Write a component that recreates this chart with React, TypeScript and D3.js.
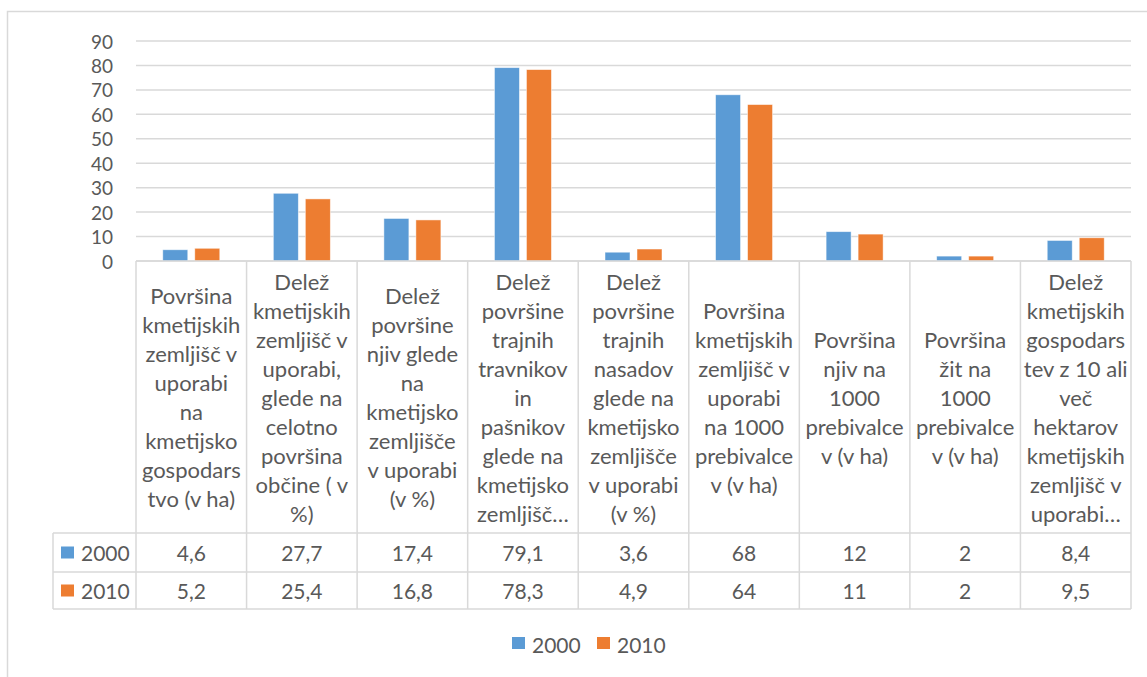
import React from "react";
import * as d3 from "d3";

const categories: string[][] = [
  ["Površina", "kmetijskih", "zemljišč v", "uporabi", "na", "kmetijsko", "gospodars", "tvo (v ha)"],
  ["Delež", "kmetijskih", "zemljišč v", "uporabi,", "glede na", "celotno", "površina", "občine ( v", "%)"],
  ["Delež", "površine", "njiv glede", "na", "kmetijsko", "zemljišče", "v uporabi", "(v %)"],
  ["Delež", "površine", "trajnih", "travnikov", "in", "pašnikov", "glede na", "kmetijsko", "zemljišč…"],
  ["Delež", "površine", "trajnih", "nasadov", "glede na", "kmetijsko", "zemljišče", "v uporabi", "(v %)"],
  ["Površina", "kmetijskih", "zemljišč v", "uporabi", "na 1000", "prebivalce", "v (v ha)"],
  ["Površina", "njiv na", "1000", "prebivalce", "v (v ha)"],
  ["Površina", "žit na", "1000", "prebivalce", "v (v ha)"],
  ["Delež", "kmetijskih", "gospodars", "tev z 10 ali", "več", "hektarov", "kmetijskih", "zemljišč v", "uporabi…"],
];

const series = ["2000", "2010"];
const values2000 = [4.6, 27.7, 17.4, 79.1, 3.6, 68, 12, 2, 8.4];
const values2010 = [5.2, 25.4, 16.8, 78.3, 4.9, 64, 11, 2, 9.5];
const yTicks = [0, 10, 20, 30, 40, 50, 60, 70, 80, 90];

const colors = ["#5B9BD5", "#ED7D31"];
const grid = "#D9D9D9";
const textColor = "#595959";
const font = "Lato, 'Noto Sans', sans-serif";

const W = 1147;
const H = 677;

export default function App() {
  const plotLeft = 136;
  const plotRight = 1131;
  const plotTop = 41;
  const plotBottom = 261;
  const headerBottom = 533;
  const row1Bottom = 572;
  const row2Bottom = 609;
  const legendLeft = 53;

  const seriesValues = [values2000, values2010];
  const idx = categories.map((_, i) => String(i));

  const x0 = d3.scaleBand<string>().domain(idx).range([plotLeft, plotRight]).padding(0);
  const bw = x0.bandwidth();
  const x1 = d3
    .scaleBand<string>()
    .domain(series)
    .range([bw / 2 - 28.5, bw / 2 + 28.5])
    .paddingInner(7 / 32)
    .paddingOuter(0);
  const y = d3.scaleLinear().domain([0, 90]).range([plotBottom, plotTop]);

  const fmt = (v: number) => String(v).replace(".", ",");
  const lineH = 29;
  const headerMid = (plotBottom + headerBottom) / 2;
  const rowMids = [(headerBottom + row1Bottom) / 2, (row1Bottom + row2Bottom) / 2];

  return (
    <svg
      width={W}
      height={H}
      style={{ position: "absolute", left: 0, top: 0, background: "#fff" }}
      fontFamily={font}
    >
      <rect x={7.5} y={11.5} width={W + 20} height={H + 20} fill="#fff" stroke={grid} strokeWidth={1.5} />

      {/* gridlines */}
      {yTicks.map((t) => (
        <line key={t} x1={plotLeft} x2={plotRight} y1={y(t)} y2={y(t)} stroke={grid} strokeWidth={1.5} />
      ))}
      {yTicks.map((t) => (
        <text
          key={"l" + t}
          x={113}
          y={y(t)}
          textAnchor="end"
          dominantBaseline="central"
          fontSize={19}
          fill={textColor}
        >
          {t}
        </text>
      ))}

      {/* bars */}
      {idx.map((c, i) => (
        <g key={c} transform={`translate(${x0(c)},0)`}>
          {series.map((s, j) => (
            <rect
              key={s}
              x={x1(s)}
              y={y(seriesValues[j][i])}
              width={x1.bandwidth()}
              height={y(0) - y(seriesValues[j][i])}
              fill={colors[j]}
              stroke="#fff"
              strokeOpacity={0.6}
              strokeWidth={0.8}
            />
          ))}
        </g>
      ))}

      {/* data table */}
      <g stroke={grid} strokeWidth={1.5} fill="none">
        <line x1={plotLeft} x2={plotRight} y1={plotBottom} y2={plotBottom} />
        {[headerBottom, row1Bottom, row2Bottom].map((yy) => (
          <line key={yy} x1={legendLeft} x2={plotRight} y1={yy} y2={yy} />
        ))}
        <line x1={legendLeft} x2={legendLeft} y1={headerBottom} y2={row2Bottom} />
        {idx.map((c) => (
          <line key={c} x1={x0(c)} x2={x0(c)} y1={plotBottom} y2={row2Bottom} />
        ))}
        <line x1={plotRight} x2={plotRight} y1={plotBottom} y2={row2Bottom} />
      </g>

      {categories.map((lines, i) => {
        const cx = (x0(String(i)) ?? 0) + bw / 2;
        const start = headerMid - ((lines.length - 1) * lineH) / 2;
        return (
          <text key={i} textAnchor="middle" fontSize={22} fill={textColor}>
            {lines.map((ln, k) => (
              <tspan key={k} x={cx} y={start + k * lineH} dominantBaseline="central">
                {ln}
              </tspan>
            ))}
          </text>
        );
      })}

      {series.map((s, j) => (
        <g key={s}>
          <rect x={61} y={rowMids[j] - 6} width={13} height={12} fill={colors[j]} />
          <text x={81} y={rowMids[j]} dominantBaseline="central" fontSize={21} fill={textColor}>
            {s}
          </text>
          {seriesValues[j].map((v, i) => (
            <text
              key={i}
              x={(x0(String(i)) ?? 0) + bw / 2}
              y={rowMids[j]}
              textAnchor="middle"
              dominantBaseline="central"
              fontSize={21}
              fill={textColor}
            >
              {fmt(v)}
            </text>
          ))}
        </g>
      ))}

      {/* legend */}
      <g>
        <rect x={512} y={637} width={13} height={12} fill={colors[0]} />
        <text x={532} y={644} dominantBaseline="central" fontSize={21} fill={textColor}>
          {series[0]}
        </text>
        <rect x={597} y={637} width={13} height={12} fill={colors[1]} />
        <text x={617} y={644} dominantBaseline="central" fontSize={21} fill={textColor}>
          {series[1]}
        </text>
      </g>
    </svg>
  );
}
